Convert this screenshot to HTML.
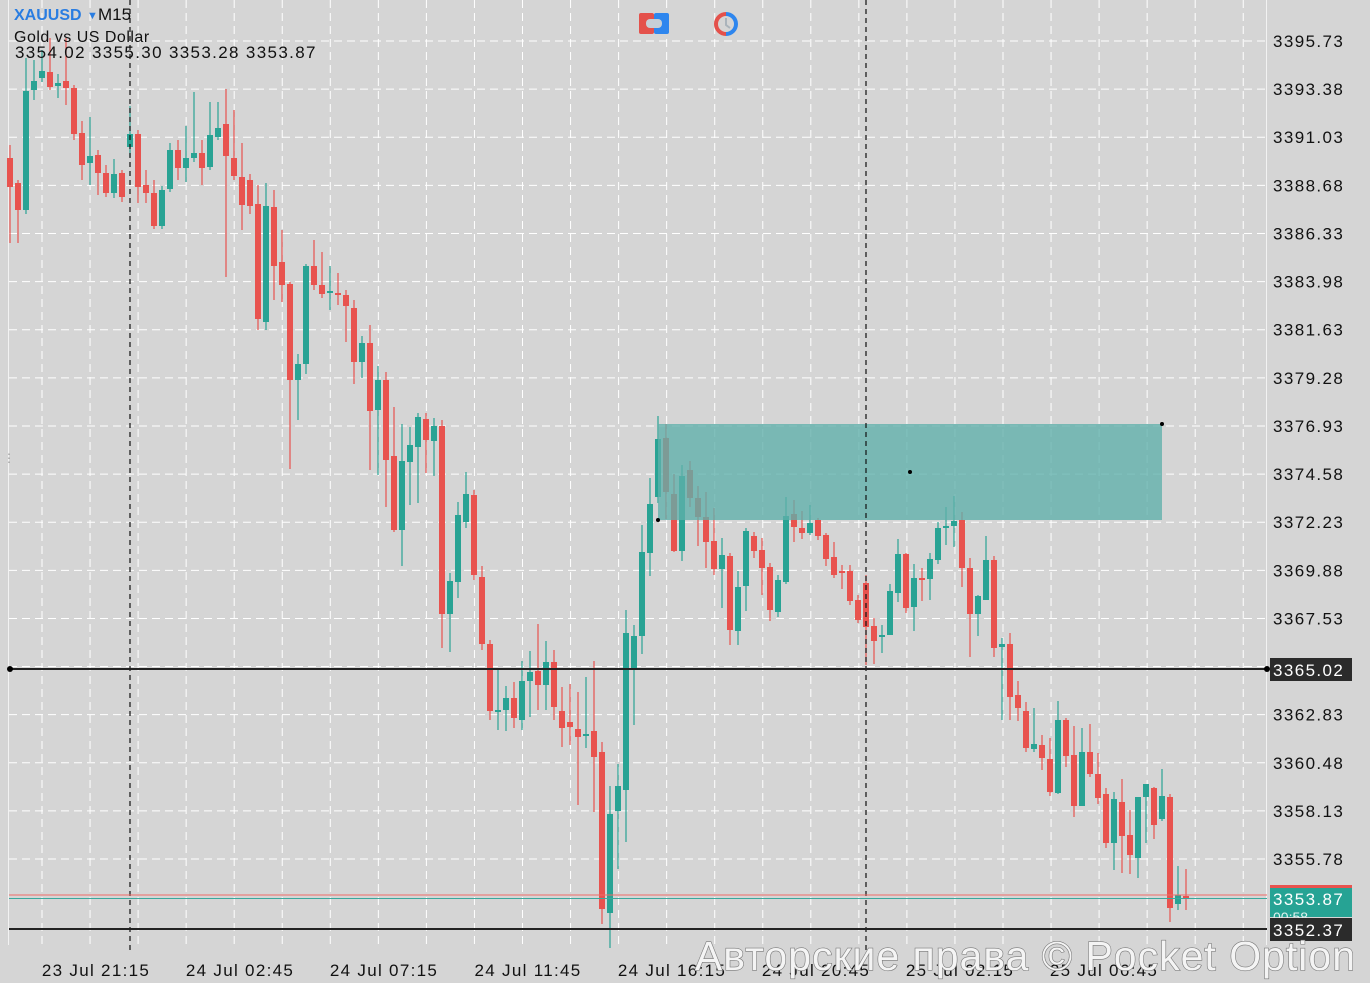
<!DOCTYPE html>
<html><head><meta charset="utf-8"><style>
html,body{margin:0;padding:0;background:#d5d5d5;width:1370px;height:983px;overflow:hidden;font-family:"Liberation Sans","DejaVu Sans",sans-serif}
svg{position:absolute;left:0;top:0}
</style></head><body>
<svg id="c" width="1370" height="983" xmlns="http://www.w3.org/2000/svg"></svg>
<script>
const s=document.getElementById('c');let h='';
h+='<rect x="0" y="0" width="1370" height="983" fill="#d5d5d5"/>';
h+='<line x1="8.5" y1="0" x2="8.5" y2="945" stroke="#f2f2f2" stroke-width="1"/>';
h+='<line x1="1266.5" y1="0" x2="1266.5" y2="945" stroke="#f2f2f2" stroke-width="1"/>';
for(let k=0;k<18;k++){const y=41+48.12*k;h+=`<line x1="9" y1="${y}" x2="1266" y2="${y}" stroke="#fff" stroke-dasharray="8,5" stroke-width="1"/>`;}
for(let k=0;k<26;k++){const x=42+48.05*k;if(x>1262)break;h+=`<line x1="${x}" y1="0" x2="${x}" y2="945" stroke="#fff" stroke-dasharray="8,5" stroke-width="1"/>`;}
const R='#e8534f',G='#29a394';
const L=[
['r',158,187,145,243],['r',183,210,180,243],['g',91,210,58,214],['g',81,90,60,100],['g',71,78,50,82],['r',72,87,38,90],['g',83,86,74,98],['r',81,88,38,105],
['r',88,134,85,140],['r',133,165,121,180],['g',156,163,117,185],['r',155,173,150,195],['r',173,193,165,197],['g',174,193,159,198],['r',173,197,170,202],['g',134,147,106,157],
['r',134,187,130,203],['r',185,193,170,203],['r',193,226,180,229],['g',190,226,186,229],['g',150,189,143,192],['r',150,168,140,180],['g',158,168,126,182],['g',153,158,92,162],
['r',153,168,140,185],['g',135,167,102,170],['g',128,137,102,140],['r',124,156,89,277],['r',158,176,110,180],['r',177,205,143,230],['r',180,206,174,214],
['r',204,319,185,330],['g',206,322,183,330],['r',207,266,190,300],['r',262,285,230,302],['r',284,380,282,469],['g',364,380,354,420],['g',266,364,264,374],['r',266,285,240,290],
['r',285,294,252,298],['g',291,293,266,310],['r',293,295,273,305],['r',295,306,290,342],['r',308,362,300,384],['g',343,362,336,378],['r',343,411,325,470],['g',380,410,366,475],
['r',380,460,372,507],['r',456,530,407,532],['g',461,530,424,566],['g',445,462,427,505],['g',417,447,413,503],['r',419,440,413,473],['g',426,441,418,476],['r',426,614,420,648],
['g',581,614,573,652],['g',515,582,502,598],['g',494,522,472,528],['r',495,575,490,580],['r',577,644,566,650],['r',644,711,640,720],['g',710,712,668,730],['g',698,710,686,731],
['r',698,718,682,728],['g',681,720,661,730],['g',672,681,651,717],['r',671,685,624,710],['g',662,685,641,710],['r',662,707,650,720],['r',711,728,687,747],['r',722,727,684,745],
['r',729,737,692,805],['g',734,736,677,748],['r',731,757,661,812],['r',752,909,742,924],['g',814,913,786,948],['g',786,811,764,869],['g',633,790,610,842],['g',636,669,625,725],
['g',552,636,525,654],['g',504,553,478,576],['g',439,497,416,503],['r',438,492,424,519],['r',494,551,474,552],['g',476,551,465,561],['r',470,498,461,507],['r',498,517,486,546],
['r',517,542,492,568],['r',541,569,508,575],['g',555,569,538,608],['r',556,630,553,645],['g',587,631,571,645],['g',531,586,528,611],['r',536,551,532,558],['r',550,568,538,595],
['r',567,610,563,621],['g',580,612,575,617],['g',516,582,497,584],['r',514,527,500,542],['r',528,533,511,539],['g',523,533,505,535],['r',520,536,518,540],['r',535,559,533,566],
['r',557,575,542,578],['r',571,573,565,589],['r',571,601,565,605],['r',600,620,595,623],['r',583,627,575,665],['r',626,641,618,664],['g',635,637,625,653],['g',591,635,584,635],
['g',554,593,539,602],['r',554,608,553,613],['g',578,607,564,631],['r',578,580,568,601],['g',559,579,553,600],['g',528,560,522,564],['g',526,528,507,545],['g',521,526,496,547],
['r',520,568,512,587],['r',568,614,558,657],['g',596,614,595,636],['g',560,600,536,600],['r',560,648,556,657],['g',644,647,638,720],['r',644,697,633,720],
['r',695,708,681,721],['r',711,748,702,752],['g',744,749,708,752],['r',745,758,735,770],['r',759,792,738,796],['g',720,793,701,794],['r',720,756,718,767],['r',755,806,726,817],
['g',752,806,728,806],['r',752,774,724,777],['r',774,798,753,804],['r',794,843,788,848],['g',799,843,792,870],['r',802,836,779,873],['r',835,855,810,874],['g',797,858,797,878],
['g',784,797,784,843],['r',788,825,787,839],['g',796,819,769,821],['r',797,908,794,922],['g',895,904,866,910],['r',896,898,869,910]
];
L.forEach((c,i)=>{const x=10+8*i;const col=c[0]=='r'?R:G;const t=c[1],b=Math.max(c[2],c[1]+2);
h+=`<line x1="${x}" y1="${c[3]}" x2="${x}" y2="${c[4]}" stroke="${col}" stroke-width="1.2"/>`;
h+=`<rect x="${x-3}" y="${t}" width="6" height="${b-t}" fill="${col}"/>`;});
// zone on top
h+='<rect x="658" y="424" width="504" height="96" fill="#5fb0ab" fill-opacity="0.78"/>';
h+='<line x1="130" y1="0" x2="130" y2="950" stroke="#111" stroke-dasharray="5,4" stroke-width="1.2"/>';
h+='<line x1="866" y1="0" x2="866" y2="950" stroke="#111" stroke-dasharray="5,4" stroke-width="1.2"/>';
h+='<circle cx="658" cy="520" r="2" fill="#000"/><circle cx="910" cy="472" r="2" fill="#000"/><circle cx="1162" cy="424" r="2" fill="#000"/>';
h+='<line x1="10" y1="669" x2="1267" y2="669" stroke="#222" stroke-width="2"/><circle cx="10" cy="669" r="3" fill="#000"/><circle cx="1267" cy="669" r="3" fill="#000"/>';
h+='<line x1="9" y1="895" x2="1267" y2="895" stroke="#ef6b67" stroke-width="1"/>';
h+='<line x1="9" y1="898.5" x2="1267" y2="898.5" stroke="#3aa89c" stroke-width="1"/>';
h+='<line x1="9" y1="929" x2="1267" y2="929" stroke="#222" stroke-width="2"/>';
const P=['3395.73','3393.38','3391.03','3388.68','3386.33','3383.98','3381.63','3379.28','3376.93','3374.58','3372.23','3369.88','3367.53','3365.02','3362.83','3360.48','3358.13','3355.78'];
const ls='letter-spacing="1.4"';
P.forEach((p,k)=>{const y=41+48.12*k;if(p=='3365.02')return;h+=`<text x="1273" y="${y+6}" font-size="17" ${ls} fill="#111">${p}</text>`;});
h+=`<rect x="1270" y="658" width="82" height="23" fill="#2b2b2b"/><text x="1273" y="676" font-size="17" ${ls} fill="#fff">3365.02</text>`;
h+=`<rect x="1270" y="885" width="82" height="32" fill="#26a394"/><rect x="1270" y="885" width="82" height="3" fill="#e8534f"/><text x="1273" y="905" font-size="17" ${ls} fill="#fff">3353.87</text><text x="1273" y="922" font-size="14" fill="#e0f2ef">00:58</text>`;
h+=`<rect x="1270" y="918" width="82" height="23" fill="#2b2b2b"/><text x="1273" y="936" font-size="17" ${ls} fill="#fff">3352.37</text>`;
const T=['23 Jul 21:15','24 Jul 02:45','24 Jul 07:15','24 Jul 11:45','24 Jul 16:15','24 Jul 20:45','25 Jul 02:15','25 Jul 06:45'];
T.forEach((t,k)=>{h+=`<text x="${96+144*k}" y="976" font-size="17" letter-spacing="1.3" fill="#111" text-anchor="middle">${t}</text>`;});
h+='<text x="14" y="20" font-size="16" font-weight="bold" fill="#2a7de1">XAUUSD</text><text x="87" y="19" font-size="11" fill="#2a7de1">▼</text><text x="98" y="20" font-size="17" fill="#111">M15</text>';
h+='<text x="14" y="42" font-size="16" letter-spacing="0.5" fill="#111">Gold vs US Dollar</text>';
h+='<text x="15" y="58" font-size="17" letter-spacing="1.35" fill="#111">3354.02 3355.30 3353.28 3353.87</text>';
h+='<rect x="639" y="13" width="15" height="21" rx="2" fill="#e4514b"/><rect x="654" y="13" width="15" height="21" rx="2" fill="#2e86ee"/><rect x="646" y="19" width="16" height="9" rx="4" fill="#c7cfd6"/>';
h+='<path d="M726 12 A12 12 0 0 0 726 36 L726 32 A8 8 0 0 1 726 16 Z" fill="#e4514b"/><path d="M726 12 A12 12 0 0 1 726 36 L726 32 A8 8 0 0 0 726 16 Z" fill="#2e86ee"/><path d="M726 18 L726 25 L730 28" stroke="#aab3bb" stroke-width="2" fill="none"/>';
h+='<text x="3" y="462" font-size="12" fill="#999">⋮</text>';
h+='<text x="1356" y="970" font-size="41" letter-spacing="1" fill="#f4f4f4" stroke="#7a7a7a" stroke-width="1.2" text-anchor="end" style="paint-order:stroke">Авторские права © Pocket Option</text>';
s.innerHTML=h;
</script>
</body></html>
